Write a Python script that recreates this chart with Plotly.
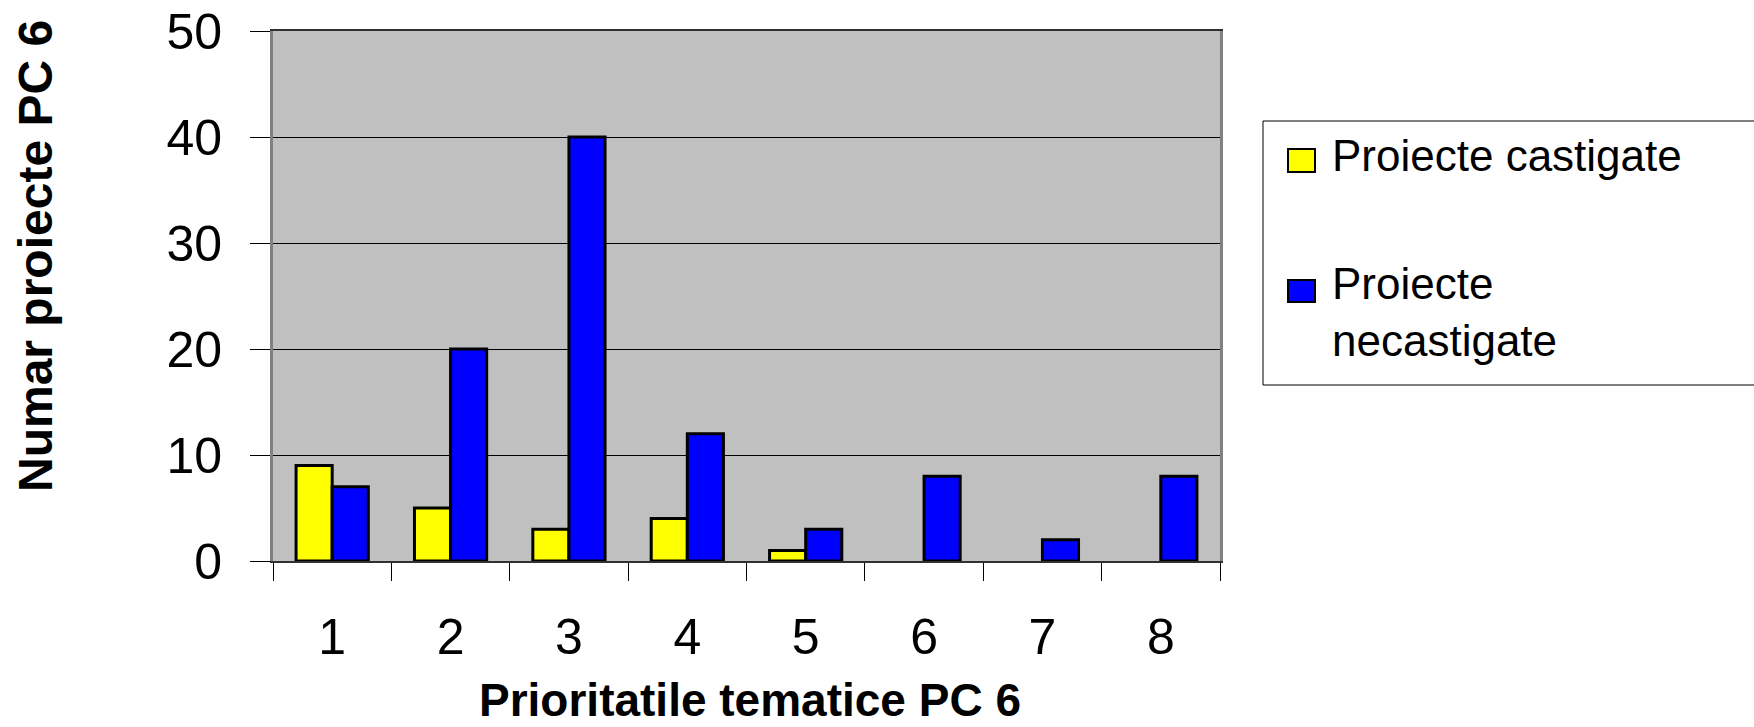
import plotly.graph_objects as go

# ---- data ----
categories = ["1", "2", "3", "4", "5", "6", "7", "8"]
castigate = [9, 5, 3, 4, 1, None, None, None]
necastigate = [7, 20, 40, 12, 3, 8, 2, 8]
series_names = ["Proiecte castigate", "Proiecte necastigate"]
legend_labels = ["Proiecte castigate", "Proiecte<br>necastigate"]
series_colors = ["#FFFF00", "#0000FF"]
y_ticks = [0, 10, 20, 30, 40, 50]
x_title = "Prioritatile tematice PC 6"
y_title = "Numar proiecte PC 6"

# ---- layout geometry (page pixels) ----
PAGE_W, PAGE_H = 1754, 727
L, R, T, B = 273, 1220, 31, 561
W, H = R - L, B - T


def px_x(px):
    return (px - L) / W


def px_y(py):
    return (B - py) / H


FONT = "Liberation Sans, Arial, sans-serif"

fig = go.Figure()
for name, vals, col in zip(series_names, [castigate, necastigate], series_colors):
    fig.add_trace(go.Bar(
        x=categories, y=vals, name=name,
        marker=dict(color=col, line=dict(color="black", width=3)),
        showlegend=False,
    ))

fig.update_layout(
    width=PAGE_W, height=PAGE_H, autosize=False,
    margin=dict(l=L, r=PAGE_W - R, t=T, b=PAGE_H - B, pad=0),
    paper_bgcolor="white", plot_bgcolor="#C0C0C0",
    barmode="group", bargap=0.39, bargroupgap=0,
    font=dict(family=FONT, color="black"),
)

fig.update_xaxes(
    type="category", categoryorder="array", categoryarray=categories,
    tickson="boundaries", ticks="outside", ticklen=18, tickcolor="black", tickwidth=1,
    tickfont=dict(size=50, family=FONT, color="black"),
    ticklabelstandoff=31,
    showline=True, linecolor="#303030", linewidth=2, mirror=True,
    showgrid=False, automargin=False,
)

fig.update_yaxes(
    range=[0, 50], tickvals=y_ticks, ticktext=[str(v) for v in y_ticks],
    ticks="outside", ticklen=20, tickcolor="black", tickwidth=1,
    tickfont=dict(size=50, family=FONT, color="black"),
    ticklabelstandoff=18, ticklabeloverflow="allow",
    showgrid=True, gridcolor="black", gridwidth=1, zeroline=False,
    showline=True, linecolor="#808080", linewidth=3, mirror=True,
    automargin=False,
)

annotations = [
    dict(xref="paper", yref="paper", x=px_x(750), y=px_y(700), xanchor="center", yanchor="middle",
         showarrow=False, text=x_title, font=dict(size=46, family=FONT, color="black", weight="bold")),
    dict(xref="paper", yref="paper", x=px_x(35), y=px_y(256), xanchor="center", yanchor="middle",
         showarrow=False, textangle=-90, text=y_title,
         font=dict(size=48, family=FONT, color="black", weight="bold")),
]

# ---- manual legend ----
shapes = [dict(type="rect", xref="paper", yref="paper",
               x0=px_x(1263), x1=px_x(1775), y0=px_y(385), y1=px_y(121),
               line=dict(color="black", width=1), fillcolor="white", layer="above")]
swatch_rows = [(149, 172), (280, 302)]
text_centers = [156, 312]
for (ya, yb), col, lab, yc in zip(swatch_rows, series_colors, legend_labels, text_centers):
    shapes.append(dict(type="rect", xref="paper", yref="paper",
                       x0=px_x(1288), x1=px_x(1315), y0=px_y(yb), y1=px_y(ya),
                       line=dict(color="black", width=2), fillcolor=col, layer="above"))
    annotations.append(dict(xref="paper", yref="paper", x=px_x(1330), y=px_y(yc),
                            xanchor="left", yanchor="middle", align="left", showarrow=False,
                            text=lab, font=dict(size=44, family=FONT, color="black")))
fig.update_layout(shapes=shapes, annotations=annotations)

# page body margin removed so the figure fills the 1754x727 window exactly
fig.write_html("out.html", config={"displayModeBar": False},
               post_script="document.body.style.margin='0px';")
